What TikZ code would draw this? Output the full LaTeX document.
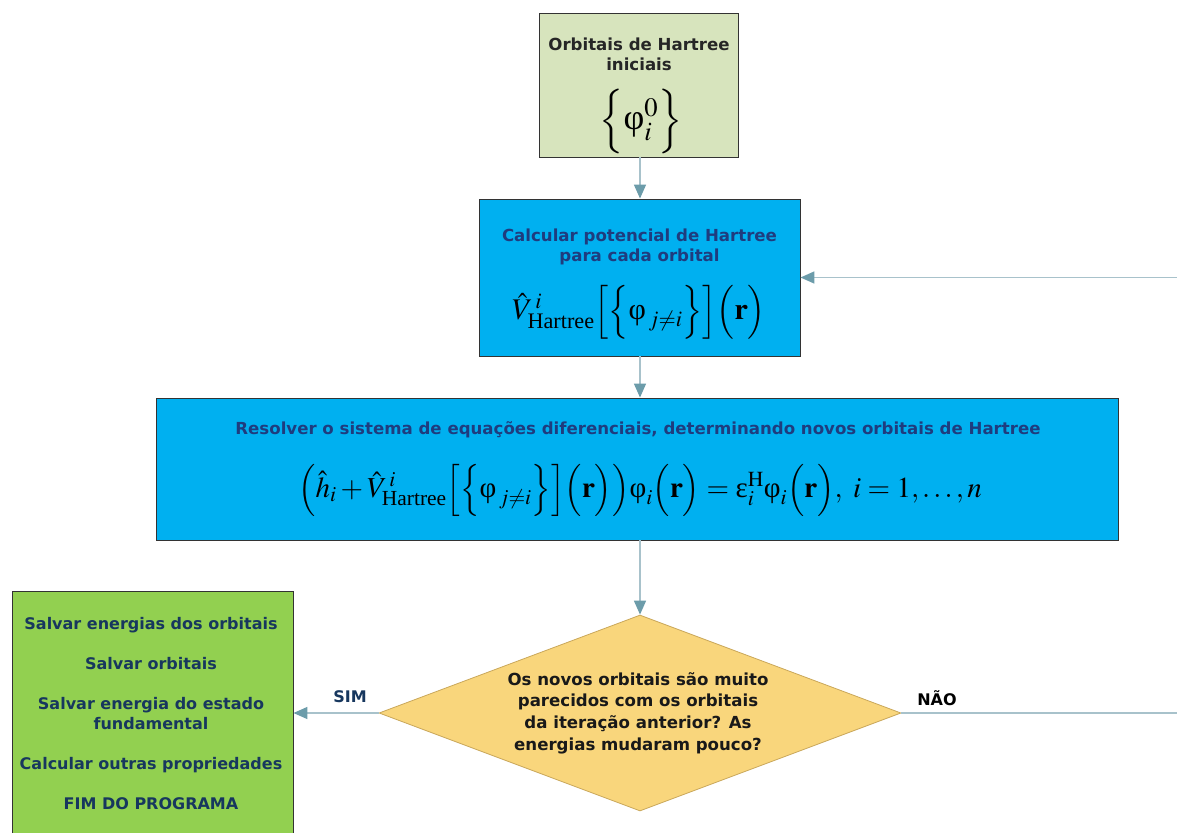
\documentclass[tikz,border=0pt]{standalone}
\usepackage{amsmath}
\usepackage{mathptmx}
\usepackage{fontspec}
\setmainfont{Liberation Serif}
\newfontfamily\verd{DejaVu Sans}
\newfontfamily\tms{Liberation Serif}
\newcommand{\uph}{\text{\tms φ}}
\newcommand{\ueps}{\text{\tms ε}}
\usetikzlibrary{shapes.geometric,arrows.meta}
\definecolor{olivebox}{HTML}{D7E4BD}
\definecolor{bluebox}{HTML}{00B0F0}
\definecolor{greenbox}{HTML}{92D050}
\definecolor{yellowbox}{HTML}{F9D67C}
\definecolor{diaedge}{HTML}{C9A75A}
\definecolor{navytext}{HTML}{1F3C7E}
\definecolor{tealnavy}{HTML}{17375E}
\definecolor{linecol}{HTML}{A8C2CB}
\definecolor{headcol}{HTML}{6C9CAA}
\tikzset{
  boxstyle/.style={draw=black!80, line width=0.9pt, rectangle, inner sep=0pt},
  flow/.style={draw=linecol, line width=1.6pt, -{Triangle[length=14pt,width=12pt,color=headcol]}},
  plainflow/.style={draw=linecol, line width=1.6pt},
  txt/.style={inner sep=0pt, align=center},
  sansb/.style={font=\verd\bfseries\fontsize{16.6}{20}\selectfont},
}
\begin{document}
\begin{tikzpicture}[x=1pt,y=-1pt]
\useasboundingbox (0,0) rectangle (1177,832);
% boxes
\node[boxstyle, fill=olivebox, minimum width=199pt, minimum height=144pt] (b1) at (638.5,85) {};
\node[boxstyle, fill=bluebox, minimum width=321pt, minimum height=157pt] (b2) at (639.5,277.5) {};
\node[boxstyle, fill=bluebox, minimum width=962pt, minimum height=142pt] (b3) at (637,469) {};
\node[diamond, draw=diaedge, line width=0.8pt, fill=yellowbox, minimum width=522pt, minimum height=196pt, inner sep=0pt] (dia) at (640,713) {};
\node[boxstyle, fill=greenbox, minimum width=281pt, minimum height=248pt] (lb) at (152.5,715) {};
% texts
\node[txt, sansb, text=black!85] (t1) at (639,54) {Orbitais de Hartree\\iniciais};
\node[txt, font=\fontsize{36}{40}\selectfont] (m1) at (641,121) {$\Bigl\{\uph^{0}_{i}\Bigr\}$};
\node[txt, sansb, text=navytext] (t2) at (639.5,247) {Calcular potencial de Hartree\\para cada orbital};
\node[txt, font=\fontsize{30}{34}\selectfont] (m2) at (639,312) {$\hat V^{\,i}_{\text{Hartree}}\Bigl[\Bigl\{\uph_{\,j\neq i}\Bigr\}\Bigr]\Bigl(\mathbf{r}\Bigr)$};
\node[txt, sansb, text=navytext] (t3) at (638,430) {Resolver o sistema de equações diferenciais, determinando novos orbitais de Hartree};
\node[txt, font=\fontsize{29}{33}\selectfont] (m3) at (640,490) {$\Bigl(\hat h_{i}+\hat V^{\,i}_{\text{Hartree}}\Bigl[\Bigl\{\uph_{\,j\neq i}\Bigr\}\Bigr]\Bigl(\mathbf{r}\Bigr)\Bigr)\uph_{i}\Bigl(\mathbf{r}\Bigr)=\ueps^{\mathrm{H}}_{i}\uph_{i}\Bigl(\mathbf{r}\Bigr),\ i=1,\ldots,n$};
\node[txt, font=\verd\bfseries\fontsize{16.6}{21.7}\selectfont, text=black!90] (dtext) at (638,713)
 {Os novos orbitais são muito\\parecidos com os orbitais\\da iteração anterior? As\\energias mudaram pouco?};
\node[txt, font=\verd\bfseries\fontsize{16}{20}\selectfont, text=tealnavy] (ltext) at (151,714)
 {Salvar energias dos orbitais\\[20pt]Salvar orbitais\\[20pt]Salvar energia do estado\\fundamental\\[20pt]Calcular outras propriedades\\[20pt]FIM DO PROGRAMA};
% connectors
\coordinate (r1) at (1177,713);
\coordinate (r2) at (1177,277.5);
\draw[flow] (b1.south -| dia.north) -- (b2.north -| dia.north);
\draw[flow] (b2.south -| dia.north) -- (b3.north -| dia.north);
\draw[flow] (b3.south -| dia.north) -- (dia.north);
\draw[flow] (dia.west) -- (dia.west -| lb.east);
\draw[plainflow] (dia.east) -- (r1);
\draw[flow] (r2) -- (b2.east);
% labels
\node[font=\verd\bfseries\fontsize{16}{18}\selectfont, text=tealnavy] (sim) at (350,697) {SIM};
\node[font=\verd\bfseries\fontsize{16}{18}\selectfont, text=black] (nao) at (937,698) {NÃO};
\end{tikzpicture}
\end{document}
